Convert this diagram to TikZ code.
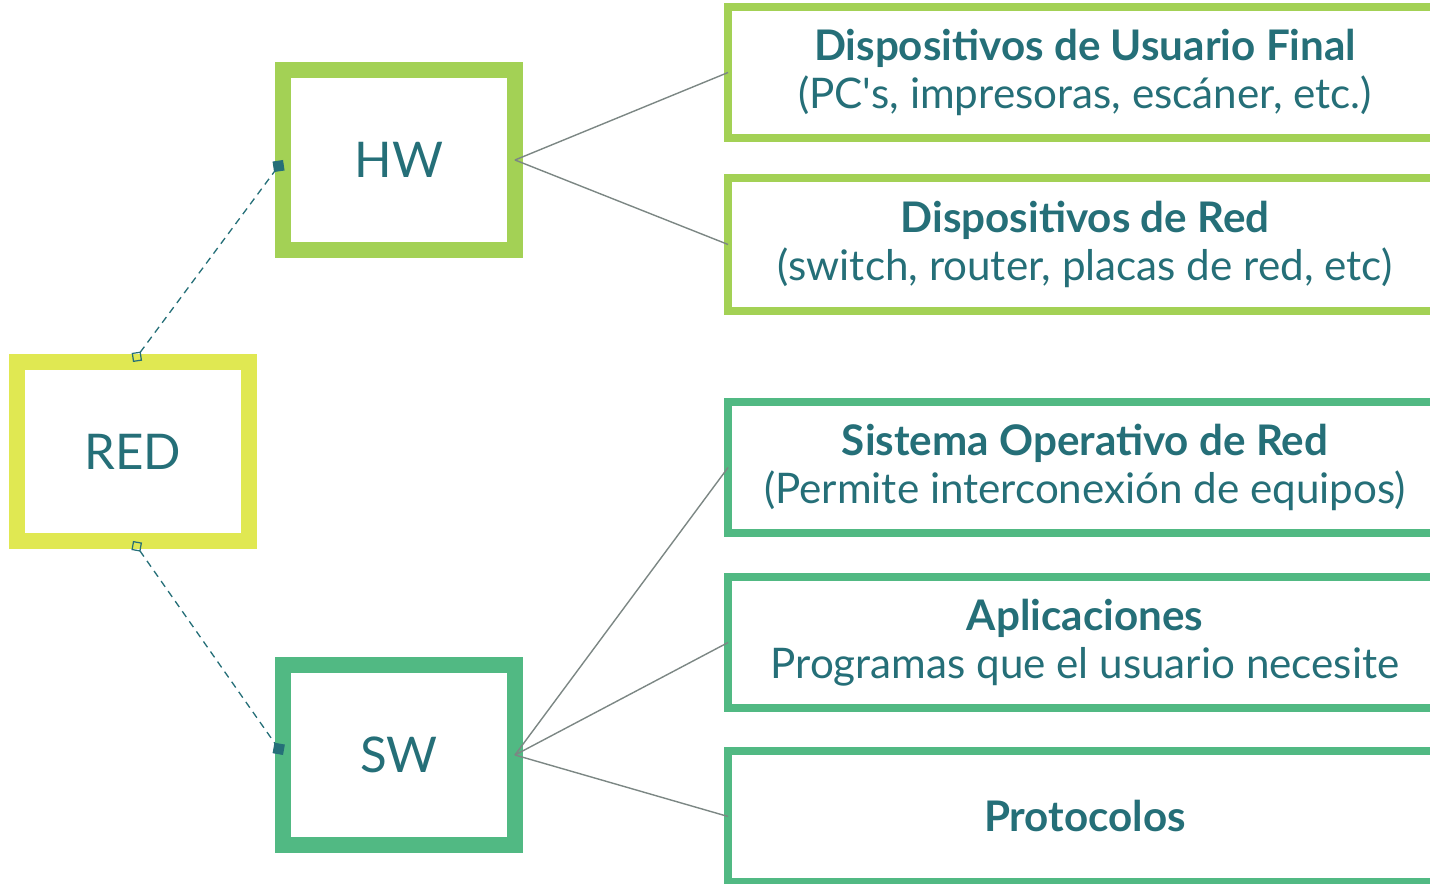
\documentclass[tikz,border=0pt]{standalone}
\usepackage{fontspec}
\setmainfont{Lato}
\usepackage{tikz}
\usetikzlibrary{calc,arrows.meta}
\definecolor{redc}{HTML}{E0E852}
\definecolor{hwc}{HTML}{A3D155}
\definecolor{swc}{HTML}{51B983}
\definecolor{teal}{HTML}{256F78}
\definecolor{wire}{HTML}{7C8784}
\tikzset{
  bigbox/.style={draw, line width=0.32cm, fill=white, outer sep=0pt,
    minimum width=4.64cm, minimum height=3.6cm, text=teal,
    font=\fontsize{28}{32}\selectfont},
  itembox/.style={draw, line width=0.16cm, fill=white, outer sep=0pt,
    minimum width=14.28cm, minimum height=2.62cm, text=teal, align=center,
    font=\fontsize{24}{27.5}\selectfont},
  link/.style={draw=wire, line width=0.8pt},
  dashlink/.style={draw=teal, line width=0.75pt, dashed, dash pattern=on 4pt off 3pt,
    {Diamond[open,length=0.26cm,width=0.26cm,line width=0.7pt]}-{Diamond[length=0.3cm,width=0.3cm]}}
}

\begin{document}
\begin{tikzpicture}[x=0.02cm, y=-0.02cm]
  \useasboundingbox (0,0) rectangle (1430,884);
  \clip (0,0) rectangle (1430,884);

  % main blocks
  \node[bigbox, draw=redc, minimum height=3.58cm] (red) at (133,451.5) {RED};
  \node[bigbox, draw=hwc] (hw) at (399,160) {HW};
  \node[bigbox, draw=swc] (sw) at (399,755) {SW};

  % hardware side
  \node[itembox, draw=hwc] (final) at (1085,72.5)
    {\textbf{Dispositivos de Usuario Final}\\(PC\textquotesingle s, impresoras, escáner, etc.)};
  \node[itembox, draw=hwc, minimum height=2.66cm] (netdev) at (1085,244.5)
    {\textbf{Dispositivos de Red}\\(switch, router, placas de red, etc)};

  % software side
  \node[itembox, draw=swc] (nos) at (1085,467.5)
    {\textbf{Sistema Operativo de Red}\\(Permite interconexión de equipos)};
  \node[itembox, draw=swc] (apps) at (1085,642.5)
    {\textbf{Aplicaciones}\\Programas que el usuario necesite};
  \node[itembox, draw=swc] (proto) at (1085,816.5)
    {\textbf{Protocolos}};

  \draw[dashlink] (red.north) -- (hw.west);
  \draw[dashlink] (red.south) -- (sw.west);

  \draw[link] (hw.east) -- (final.west);
  \draw[link] (hw.east) -- (netdev.west);
  \draw[link] (sw.east) -- (nos.west);
  \draw[link] (sw.east) -- (apps.west);
  \draw[link] (sw.east) -- (proto.west);
\end{tikzpicture}
\end{document}
